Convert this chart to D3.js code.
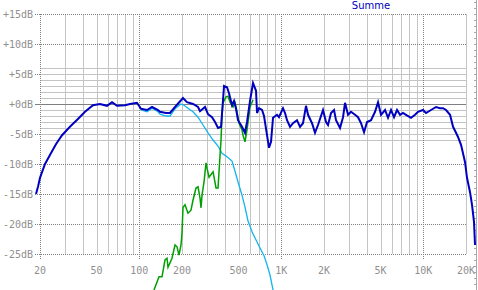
<!DOCTYPE html>
<html>
<head>
<meta charset="utf-8">
<script src="https://cdn.jsdelivr.net/npm/d3@7"></script>
<style>
  body { margin: 0; background: #fff; }
  svg { display: block; font-family: "DejaVu Sans Mono", monospace; }
</style>
</head>
<body>
<svg id="chart" width="478" height="290"></svg>
<script>
// axis ticks
const dbMajor = [15, 10, 5, 0, -5, -10, -15, -20, -25];
const dbMinor = [6, 4, 3, 2, 1, -1, -2, -3, -4, -6, 5, -5];
const freqMajor = [20, 100, 1000, 10000];
const freqMinor = [30, 40, 50, 60, 70, 80, 90, 200, 300, 400, 500, 600, 700, 800, 900,
  2000, 3000, 4000, 5000, 6000, 7000, 8000, 9000, 20000];
const freqLabelValues = [20, 50, 100, 200, 500, 1000, 2000, 5000, 10000, 20000];
const freqLabelText = ['20', '50', '100', '200', '500', '1K', '2K', '5K', '10K', '20K'];

// [Hz, dB]
const summe = [
  [18.75, -15], [19.4, -13.7], [20, -12.3], [20.7, -11.3], [21.7, -10], [23.5, -8.5],
  [25.9, -6.7], [28.6, -5.2], [32.5, -3.8], [37, -2.5], [41.5, -1.3], [47.2, -0.2],
  [52.9, 0], [59.3, -0.3], [64.3, 0.3], [69.7, -0.3], [79.4, -0.2], [86.1, 0],
  [96.4, 0.2], [102.9, -0.8], [113.4, -1], [123, -0.5], [135.5, -1], [140, -1.3],
  [154.3, -1.5], [164.7, -1.5], [178.6, -0.5], [203.3, 1], [216.9, 0.3], [239.2, 0],
  [259.3, -0.5], [267.9, -1.2], [290.5, -0.5], [305, -1.7], [325.5, -2.2], [341.7, -3],
  [358.7, -4], [376.6, -3.8], [389, 0.7], [395.4, 3], [415, 2.8], [428.7, 1.8],
  [450.1, -0.2], [464.9, 0.5], [480.3, -0.8], [496.1, -2.7], [529.2, -3.8], [555.6, -4.8],
  [574, -3], [602.6, 0.5], [632.7, 3.5], [664.2, 2.2], [675.1, -1.5], [697.4, -0.7],
  [732.2, -1], [756.3, -2], [793.8, -5.2], [820, -7.3], [847.1, -6.3], [875, -2.3],
  [933.4, -1.8], [964.2, -2.2], [1029, -0.7], [1063, -1.5], [1098, -2.7], [1153, -3.8],
  [1210, -3.2], [1291, -2.7], [1356, -3.8], [1423, -3.2], [1494, -0.3], [1544, -1.8],
  [1647, -3.2], [1729, -4.8], [1815, -3.5], [1968, -1], [2067, -3], [2135, -3.5],
  [2241, -1.5], [2353, -1], [2430, -2.7], [2594, -4], [2723, -2.2], [2812, 0.2],
  [2953, -1.8], [3100, -1.3], [3308, -1.8], [3472, -2.2], [3646, -3.2], [3828, -4.7],
  [4018, -3], [4288, -2.7], [4576, -1.3], [4804, 0.3], [5042, -1.8], [5382, -1],
  [5649, -2.3], [5930, -1], [6227, -2.2], [6536, -1], [6862, -1.8], [7204, -1.5],
  [7561, -1.8], [8200, -2.3], [8750, -1.8], [9186, -1.3], [9961, -1], [10460, -1.5],
  [11340, -1], [12300, -0.5], [13130, -0.7], [13780, -0.7], [14470, -1], [15440, -1.8],
  [16210, -3.8], [17010, -4.8], [17570, -5.5], [18450, -6.8], [19050, -8.2], [19690, -9.7],
  [20330, -12.3], [21350, -14.7], [22050, -16.8], [22780, -19.7], [23150, -23.5]
];

const woofer = [
  [102.9, -1], [113.4, -1.3], [123, -0.7], [135.5, -1.3], [140, -1.7], [154.3, -2],
  [164.7, -2], [178.6, -0.8], [196.8, 0], [206.7, -0.2], [220.4, -0.7], [239.2, -1.3],
  [259.3, -2.2], [281.2, -3.5], [305, -4.8], [330.8, -6], [358.7, -7], [382.7, -8.2],
  [415, -8.8], [450.1, -9.5], [472.5, -11.2], [496.1, -13], [529.2, -15.2], [555.6, -17.2],
  [583.4, -19.5], [622.5, -21.3], [675.1, -23], [708.8, -24], [756.3, -25.3], [793.8, -26.8],
  [833.4, -28.5], [875, -31]
];

const tweeter = [
  [127, -31], [137.8, -28.8], [144.6, -28.8], [151.8, -26], [156.8, -25.7], [159.4, -27.2],
  [170.1, -25.7], [178.6, -23.5], [184.5, -23.8], [190.5, -25.2], [196.8, -23.5], [200, -21.5],
  [203.3, -17.2], [210, -16.8], [220.4, -18.2], [231.4, -17.7], [239.2, -16], [251, -14],
  [259.3, -13.8], [267.9, -15.7], [272.3, -17.3], [276.7, -15.2], [285.8, -13], [295.2, -9.8],
  [300.1, -10.7], [310, -12.2], [330.8, -11.3], [336.2, -12.2], [347.2, -14], [358.7, -14],
  [364.6, -11.3], [370.6, -8.5], [376.6, -6], [382.7, -1.8], [389, 0.2], [408.3, 1.2],
  [421.8, 1.3], [435.7, 0.3], [457.5, -0.5], [472.5, 0.2], [488.1, -1.3], [504.2, -3.2],
  [529.2, -4.3], [537.9, -5.2], [555.6, -6.3], [574, -4.3], [602.6, -0.5], [622.5, 0.3],
  [632.7, 0.7]
];

const svg = d3.select('#chart');
const x = d3.scaleLog().domain([20, 20000]).range([40, 466]);
const y = d3.scaleLinear().domain([-25, 15]).range([254, 14]);
const px = v => Math.round(v) + 0.5;

// minor horizontal lines
svg.append('g').selectAll('line').data(dbMinor).enter().append('line')
  .attr('x1', 40).attr('x2', 466)
  .attr('y1', d => px(y(d))).attr('y2', d => px(y(d)))
  .attr('stroke', '#c4c4c4').attr('stroke-width', 1);

// minor vertical lines
svg.append('g').selectAll('line').data(freqMinor).enter().append('line')
  .attr('x1', d => px(x(d))).attr('x2', d => px(x(d)))
  .attr('y1', 14).attr('y2', 254)
  .attr('stroke', '#c4c4c4').attr('stroke-width', 1);

// major horizontal dotted lines
svg.append('g').selectAll('line').data(dbMajor.filter(d => d !== 0 && Math.abs(d) !== 5)).enter().append('line')
  .attr('x1', 35).attr('x2', 466)
  .attr('y1', d => px(y(d))).attr('y2', d => px(y(d)))
  .attr('stroke', '#808080').attr('stroke-dasharray', '1,1');

// ticks for +-5
svg.append('g').selectAll('line').data([5, -5]).enter().append('line')
  .attr('x1', 35).attr('x2', 40)
  .attr('y1', d => px(y(d))).attr('y2', d => px(y(d)))
  .attr('stroke', '#808080').attr('stroke-dasharray', '1,1');

// 0 dB line
svg.append('line')
  .attr('x1', 35).attr('x2', 466)
  .attr('y1', px(y(0))).attr('y2', px(y(0)))
  .attr('stroke', '#808080');

// major vertical dotted lines
svg.append('g').selectAll('line').data(freqMajor).enter().append('line')
  .attr('x1', d => px(x(d))).attr('x2', d => px(x(d)))
  .attr('y1', 14).attr('y2', 259)
  .attr('stroke', '#808080').attr('stroke-dasharray', '1,1');

// ruler at the right edge
svg.append('line').attr('x1', 476.5).attr('x2', 476.5).attr('y1', 0).attr('y2', 290)
  .attr('stroke', '#a8a8a8');
svg.append('g').selectAll('line').data(d3.range(-30, 18, 1)).enter().append('line')
  .attr('x1', 474).attr('x2', 476)
  .attr('y1', d => px(y(d))).attr('y2', d => px(y(d)))
  .attr('stroke', '#a8a8a8');

// y labels
svg.append('g').selectAll('text').data(dbMajor).enter().append('text')
  .attr('x', 33).attr('y', d => y(d) + 3.5)
  .attr('text-anchor', 'end')
  .attr('font-size', 10).attr('fill', '#909090')
  .text(d => (d >= 0 ? '+' : '') + d + 'dB');

// x labels
svg.append('g').selectAll('text').data(freqLabelValues).enter().append('text')
  .attr('x', d => x(d)).attr('y', 274)
  .attr('text-anchor', 'middle')
  .attr('font-size', 10).attr('fill', '#909090')
  .text((d, i) => freqLabelText[i]);

// curves
const line = d3.line().x(d => x(d[0])).y(d => y(d[1]));

svg.append('path').datum(woofer)
  .attr('d', line).attr('fill', 'none')
  .attr('stroke', '#12b4f0').attr('stroke-width', 1.3);

svg.append('path').datum(tweeter)
  .attr('d', line).attr('fill', 'none')
  .attr('stroke', '#00a000').attr('stroke-width', 1.5);

svg.append('path').datum(summe)
  .attr('d', line).attr('fill', 'none')
  .attr('stroke', '#0000c0').attr('stroke-width', 2);

// legend
svg.append('text')
  .attr('x', 371).attr('y', 8.5)
  .attr('text-anchor', 'middle')
  .attr('font-family', 'DejaVu Sans, sans-serif')
  .attr('font-size', 10).attr('fill', '#0000c0')
  .text('Summe');
</script>
</body>
</html>
